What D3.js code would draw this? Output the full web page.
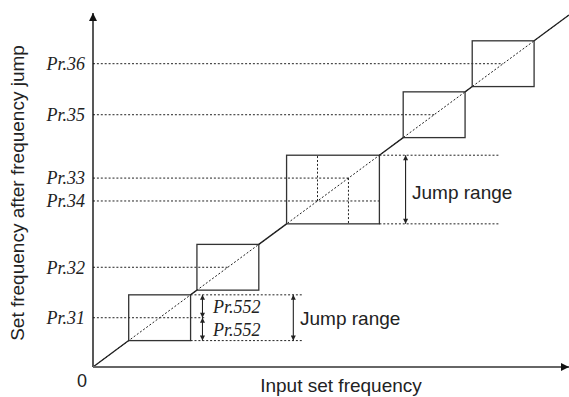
<!DOCTYPE html>
<html>
<head>
<meta charset="utf-8">
<script src="https://cdn.jsdelivr.net/npm/d3@7"></script>
<style>
  body { margin: 0; background: #fff; }
  .sans { font-family: "Liberation Sans", Arial, sans-serif; fill: #222; }
  .pr { font-family: "Liberation Serif", "Times New Roman", serif; font-style: italic; fill: #222; }
</style>
</head>
<body>
<div id="chart"></div>
<script>
// frequency jump settings (Hz)
var prNames  = ["Pr.31", "Pr.32", "Pr.34", "Pr.33", "Pr.35", "Pr.36"];
var prValues = [8.4, 17.0, 28.3, 32.2, 43.0, 51.7];
var jumpHalf = 3.9;   // Pr.552
var freqMax  = 60;

var width = 569, height = 397;

var svg = d3.select("#chart")
  .append("svg")
    .attr("width", width)
    .attr("height", height);

var x = d3.scaleLinear().domain([0, freqMax]).range([93, 569]);
var y = d3.scaleLinear().domain([0, freqMax]).range([367, 15]);

// jump ranges, overlapping ones merged into one box
var ranges = prValues.map(function(v){ return [v - jumpHalf, v + jumpHalf]; });
var merged = [];
ranges.forEach(function(r){
  var last = merged[merged.length - 1];
  if (last && r[0] <= last[1]) last[1] = Math.max(last[1], r[1]);
  else merged.push([r[0], r[1]]);
});

// arrow heads
var defs = svg.append("defs");
function marker(id, w, h, col){
  defs.append("marker")
    .attr("id", id)
    .attr("viewBox", "0 0 10 10")
    .attr("refX", 10).attr("refY", 5)
    .attr("markerUnits", "userSpaceOnUse")
    .attr("markerWidth", w).attr("markerHeight", h)
    .attr("orient", "auto-start-reverse")
  .append("path")
    .attr("d", "M0,0 L10,5 L0,10 z")
    .attr("fill", col);
}
marker("arr", 6, 5, "#222");
marker("axarr", 9, 8, "#111");

var dotted = { stroke: "#222", width: 1, dash: "2,1.9" };
function dline(x1, y1, x2, y2){
  svg.append("line")
    .attr("x1", x(x1)).attr("y1", y(y1))
    .attr("x2", x(x2)).attr("y2", y(y2))
    .attr("stroke", dotted.stroke)
    .attr("stroke-width", dotted.width)
    .attr("stroke-dasharray", dotted.dash);
}

// dotted diagonal (input = output)
dline(0, 0, freqMax, freqMax);

// horizontal guide lines from the axis
prValues.forEach(function(v, i){
  var end = v;
  if (prNames[i] == "Pr.31") end = 14.1;          // runs on to the Pr.552 arrows
  if (prNames[i] == "Pr.34") end = merged[2][1];  // runs to the box edge
  dline(0, v, end, v);
});

// inner edges of the two overlapping jumps
var p34 = prValues[2], p33 = prValues[3];
dline(p34, p34, p34, p33 + jumpHalf);
dline(p33, p33, p33, p34 - jumpHalf);

// jump boxes
svg.append("g")
  .selectAll("rect")
  .data(merged)
  .enter().append("rect")
    .attr("x", function(d){ return x(d[0]); })
    .attr("y", function(d){ return y(d[1]); })
    .attr("width", function(d){ return x(d[1]) - x(d[0]); })
    .attr("height", function(d){ return y(d[0]) - y(d[1]); })
    .attr("fill", "none")
    .attr("stroke", "#333")
    .attr("stroke-width", 1.3);

// solid output line between jumps
var segs = [];
var prev = 0;
merged.forEach(function(r){ segs.push([prev, r[0]]); prev = r[1]; });
segs.push([prev, freqMax]);
svg.append("g")
  .selectAll("line")
  .data(segs)
  .enter().append("line")
    .attr("x1", function(d){ return x(d[0]); })
    .attr("y1", function(d){ return y(d[0]); })
    .attr("x2", function(d){ return x(d[1]); })
    .attr("y2", function(d){ return y(d[1]); })
    .attr("stroke", "#222")
    .attr("stroke-width", 1.3);

// axes
svg.append("line")
  .attr("x1", x(0)).attr("y1", y(0))
  .attr("x2", x(0)).attr("y2", 13)
  .attr("stroke", "#111").attr("stroke-width", 1.4)
  .attr("marker-end", "url(#axarr)");
svg.append("line")
  .attr("x1", x(0)).attr("y1", y(0))
  .attr("x2", 569).attr("y2", y(0))
  .attr("stroke", "#666").attr("stroke-width", 2.2)
  .attr("marker-end", "url(#axarr)");

var yAxis = svg.append("g")
  .attr("transform", "translate(" + x(0) + ",0)")
  .call(d3.axisLeft(y)
    .tickValues(prValues)
    .tickFormat(function(d, i){ return prNames[i]; })
    .tickSize(0)
    .tickPadding(8));
yAxis.select(".domain").remove();
yAxis.selectAll("text")
  .attr("class", "pr")
  .attr("font-family", null)
  .style("font-size", "18px");

svg.append("text")
  .attr("class", "sans")
  .attr("x", 82).attr("y", 387)
  .attr("text-anchor", "middle")
  .style("font-size", "18px")
  .text("0");

svg.append("text")
  .attr("class", "sans")
  .attr("x", 341).attr("y", 392)
  .attr("text-anchor", "middle")
  .style("font-size", "19px")
  .text("Input set frequency");

svg.append("text")
  .attr("class", "sans")
  .attr("transform", "translate(24,193) rotate(-90)")
  .attr("text-anchor", "middle")
  .style("font-size", "19px")
  .text("Set frequency after frequency jump");

// jump range annotation for the first jump
var j1 = merged[0];
dline(j1[1], j1[1], 26.5, j1[1]);
dline(j1[1], j1[0], 26.5, j1[0]);
function arrow(f, a, b){
  svg.append("line")
    .attr("x1", x(f)).attr("y1", y(a))
    .attr("x2", x(f)).attr("y2", y(b))
    .attr("stroke", "#222").attr("stroke-width", 1.1)
    .attr("marker-start", "url(#arr)")
    .attr("marker-end", "url(#arr)");
}
arrow(13.8, prValues[0], j1[1]);
arrow(13.8, j1[0], prValues[0]);
arrow(25.25, j1[0], j1[1]);
svg.append("text").attr("class", "pr")
  .attr("x", 213).attr("y", 313)
  .style("font-size", "18px").text("Pr.552");
svg.append("text").attr("class", "pr")
  .attr("x", 213).attr("y", 336)
  .style("font-size", "18px").text("Pr.552");
svg.append("text").attr("class", "sans")
  .attr("x", 300).attr("y", 325)
  .style("font-size", "19px").text("Jump range");

// jump range annotation for the wide jump
var j3 = merged[2];
dline(j3[1], j3[1], 51.3, j3[1]);
dline(j3[1], j3[0], 51.3, j3[0]);
arrow(39.4, j3[0], j3[1]);
svg.append("text").attr("class", "sans")
  .attr("x", 412).attr("y", 199)
  .style("font-size", "19px").text("Jump range");
</script>
</body>
</html>
